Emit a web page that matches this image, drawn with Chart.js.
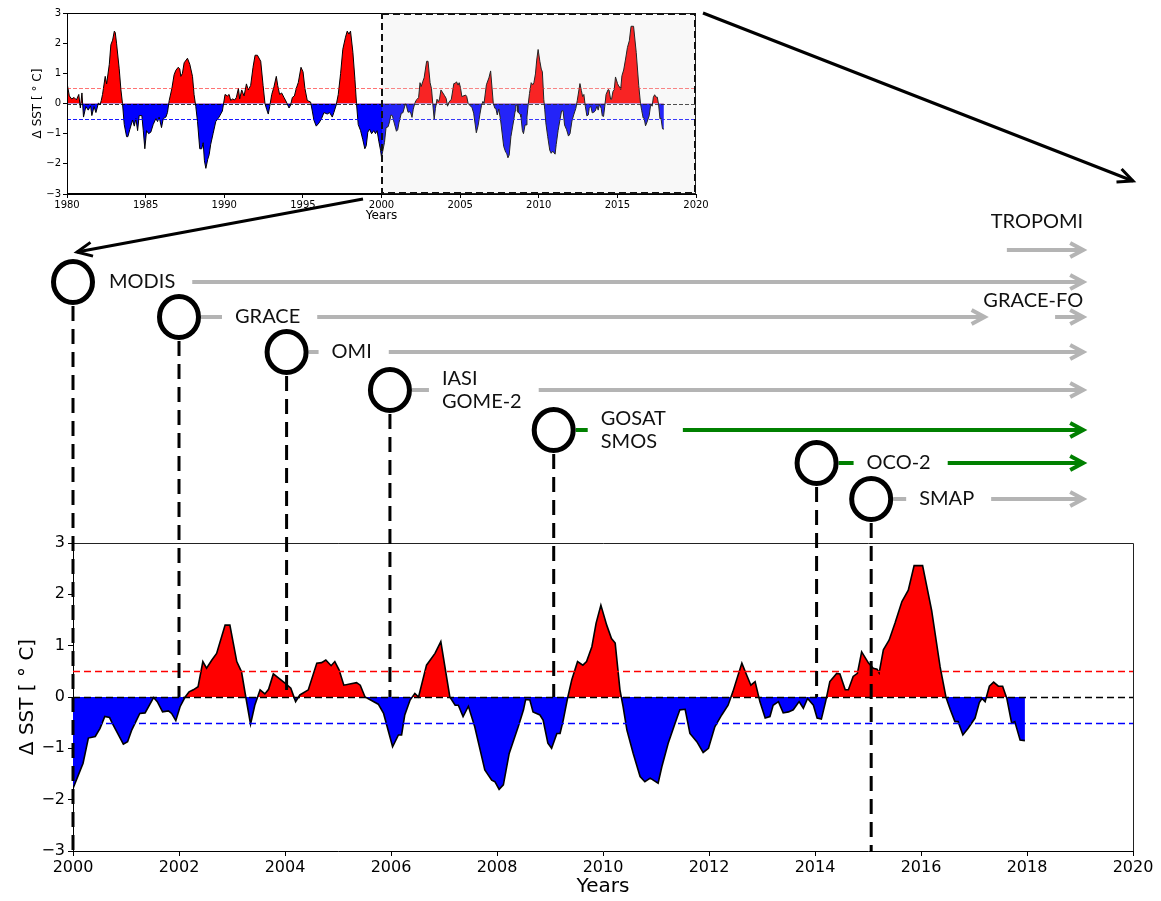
<!DOCTYPE html>
<html>
<head>
<meta charset="utf-8">
<title>SST anomaly and satellite missions</title>
<script src="https://cdn.jsdelivr.net/npm/chart.js@4.4.1/dist/chart.umd.min.js"></script>
<style>
  html, body { margin: 0; padding: 0; background: #fff; }
  #wrap { position: relative; width: 1161px; height: 901px; }
  #mainChart, #insetChart { position: absolute; left: 0; top: 0; }
</style>
</head>
<body>
<div id="wrap">
  <canvas id="mainChart" width="1161" height="901"></canvas>
  <canvas id="insetChart" width="720" height="232"></canvas>
</div>
<script>
// ---- data ----
const earlyYears = [1980.00, 1980.15, 1980.30, 1980.45, 1980.60, 1980.75, 1980.85, 1980.95, 1981.05, 1981.20,
  1981.35, 1981.50, 1981.58, 1981.72, 1981.84, 1982.00, 1982.10, 1982.18, 1982.26, 1982.43,
  1982.52, 1982.69, 1982.79, 1982.90, 1983.01, 1983.07, 1983.15, 1983.32, 1983.43, 1983.53,
  1983.64, 1983.79, 1983.87, 1984.00, 1984.17, 1984.28, 1984.38, 1984.49, 1984.59, 1984.76,
  1984.85, 1984.95, 1985.06, 1985.19, 1985.33, 1985.48, 1985.65, 1985.76, 1985.86, 1986.01,
  1986.12, 1986.29, 1986.39, 1986.50, 1986.67, 1986.81, 1986.92, 1987.07, 1987.17, 1987.24,
  1987.34, 1987.45, 1987.66, 1987.81, 1987.98, 1988.08, 1988.19, 1988.30, 1988.44, 1988.57,
  1988.66, 1988.74, 1988.83, 1988.95, 1989.04, 1989.14, 1989.29, 1989.46, 1989.67, 1989.88,
  1990.05, 1990.20, 1990.31, 1990.41, 1990.52, 1990.67, 1990.77, 1990.90, 1990.98, 1991.11,
  1991.26, 1991.41, 1991.53, 1991.68, 1991.83, 1991.96, 1992.11, 1992.32, 1992.47, 1992.59,
  1992.70, 1992.80, 1992.89, 1993.02, 1993.16, 1993.31, 1993.40, 1993.52, 1993.65, 1993.80,
  1993.95, 1994.12, 1994.22, 1994.33, 1994.46, 1994.58, 1994.71, 1994.88, 1995.01, 1995.13,
  1995.28, 1995.49, 1995.60, 1995.70, 1995.85, 1996.02, 1996.19, 1996.34, 1996.55, 1996.70,
  1996.87, 1996.97, 1997.12, 1997.25, 1997.40, 1997.54, 1997.71, 1997.82, 1997.93, 1998.03,
  1998.18, 1998.31, 1998.41, 1998.52, 1998.67, 1998.81, 1998.94, 1999.03, 1999.13, 1999.24,
  1999.37, 1999.51, 1999.62, 1999.72, 1999.83, 1999.94];
const earlySst = [0.68, 0.25, 0.15, 0.20, 0.12, 0.30, -0.15, 0.35, -0.45, -0.10,
  -0.22, -0.08, -0.40, -0.10, -0.30, 0.02, -0.05, 0.10, 0.30, 0.90,
  0.65, 1.30, 1.95, 2.10, 2.40, 2.35, 2.00, 1.15, 0.45, 0.00,
  -0.70, -1.10, -1.10, -0.85, -0.55, -0.75, -0.50, -0.90, -0.40, -0.40,
  -0.90, -1.50, -0.90, -1.00, -0.95, -0.70, -0.50, -0.60, -0.45, -0.80,
  -0.50, -0.45, -0.30, 0.10, 0.50, 0.95, 1.10, 1.20, 1.15, 0.90,
  1.00, 1.35, 1.50, 1.30, 0.90, 0.30, -0.10, -0.60, -1.50, -1.50,
  -1.30, -1.90, -2.15, -1.85, -1.70, -1.35, -1.00, -0.60, -0.45, -0.25,
  0.30, 0.25, 0.30, 0.10, 0.15, 0.12, 0.20, 0.50, 0.15, 0.45,
  0.25, 0.65, 0.45, 0.60, 1.20, 1.60, 1.60, 1.40, 0.60, 0.00,
  -0.20, -0.35, -0.10, 0.30, 0.55, 0.90, 0.60, 0.30, 0.35, 0.20,
  0.05, -0.15, -0.05, 0.20, 0.25, 0.50, 0.70, 1.20, 1.05, 0.50,
  0.10, 0.05, -0.25, -0.55, -0.75, -0.65, -0.50, -0.30, -0.35, -0.30,
  -0.45, -0.30, -0.05, 0.30, 1.00, 1.80, 2.20, 2.40, 2.30, 2.40,
  1.70, 0.80, 0.00, -0.70, -0.90, -1.20, -1.50, -1.40, -0.95, -0.85,
  -1.00, -0.90, -1.00, -0.90, -1.25, -1.55];

const recentYears = [2000.00, 2000.19, 2000.29, 2000.42, 2000.51, 2000.60, 2000.69, 2000.76, 2000.95, 2001.03,
  2001.11, 2001.26, 2001.36, 2001.52, 2001.59, 2001.69, 2001.80, 2001.86, 2001.94, 2002.02,
  2002.11, 2002.19, 2002.27, 2002.36, 2002.45, 2002.52, 2002.62, 2002.71, 2002.87, 2002.96,
  2003.09, 2003.18, 2003.26, 2003.35, 2003.43, 2003.53, 2003.62, 2003.69, 2003.78, 2004.00,
  2004.11, 2004.20, 2004.28, 2004.44, 2004.60, 2004.69, 2004.77, 2004.87, 2004.94, 2005.02,
  2005.11, 2005.35, 2005.42, 2005.51, 2005.76, 2005.86, 2006.03, 2006.14, 2006.20, 2006.26,
  2006.36, 2006.45, 2006.52, 2006.67, 2006.83, 2006.94, 2007.11, 2007.21, 2007.27, 2007.36,
  2007.46, 2007.58, 2007.77, 2007.90, 2007.96, 2008.04, 2008.12, 2008.23, 2008.40, 2008.50,
  2008.54, 2008.62, 2008.68, 2008.81, 2008.87, 2008.96, 2009.03, 2009.13, 2009.19, 2009.25,
  2009.33, 2009.41, 2009.52, 2009.62, 2009.69, 2009.79, 2009.87, 2009.96, 2010.07, 2010.16,
  2010.23, 2010.32, 2010.38, 2010.45, 2010.57, 2010.70, 2010.79, 2010.89, 2011.04, 2011.11,
  2011.23, 2011.36, 2011.45, 2011.55, 2011.64, 2011.77, 2011.89, 2011.99, 2012.11, 2012.24,
  2012.36, 2012.45, 2012.62, 2012.71, 2012.79, 2012.87, 2012.96, 2013.06, 2013.15, 2013.21,
  2013.31, 2013.40, 2013.50, 2013.59, 2013.70, 2013.78, 2013.86, 2013.97, 2014.04, 2014.12,
  2014.20, 2014.28, 2014.41, 2014.47, 2014.57, 2014.63, 2014.72, 2014.80, 2014.88, 2015.01,
  2015.10, 2015.17, 2015.21, 2015.29, 2015.40, 2015.51, 2015.64, 2015.76, 2015.87, 2016.03,
  2016.20, 2016.36, 2016.47, 2016.55, 2016.64, 2016.70, 2016.79, 2016.89, 2017.02, 2017.10,
  2017.15, 2017.21, 2017.29, 2017.37, 2017.46, 2017.54, 2017.62, 2017.71, 2017.77, 2017.87,
  2017.96];
const recentSst = [-1.78, -1.29, -0.80, -0.77, -0.61, -0.38, -0.40, -0.55, -0.92, -0.87,
  -0.64, -0.32, -0.31, -0.01, -0.09, -0.29, -0.27, -0.32, -0.46, -0.19,
  -0.01, 0.10, 0.14, 0.20, 0.69, 0.56, 0.72, 0.85, 1.40, 1.40,
  0.69, 0.49, 0.00, -0.53, -0.16, 0.14, 0.06, 0.15, 0.45, 0.27,
  0.17, -0.09, 0.04, 0.14, 0.66, 0.67, 0.72, 0.61, 0.69, 0.53,
  0.23, 0.28, 0.23, 0.00, -0.14, -0.32, -0.97, -0.74, -0.74, -0.35,
  -0.06, 0.07, 0.00, 0.62, 0.85, 1.08, 0.00, -0.16, -0.16, -0.38,
  -0.18, -0.58, -1.42, -1.62, -1.65, -1.80, -1.71, -1.10, -0.58, -0.25,
  -0.05, -0.06, -0.29, -0.35, -0.45, -0.90, -1.00, -0.71, -0.71, -0.45,
  -0.03, 0.33, 0.69, 0.62, 0.69, 0.98, 1.44, 1.79, 1.40, 1.14,
  1.05, 0.14, -0.19, -0.64, -1.10, -1.55, -1.65, -1.58, -1.68, -1.36,
  -0.90, -0.51, -0.25, -0.24, -0.71, -0.87, -1.08, -1.00, -0.58, -0.35,
  -0.16, 0.10, 0.66, 0.43, 0.23, 0.30, -0.09, -0.41, -0.38, -0.16,
  -0.09, -0.31, -0.29, -0.25, -0.09, -0.22, -0.03, -0.16, -0.41, -0.43,
  -0.09, 0.30, 0.46, 0.45, 0.14, 0.14, 0.40, 0.46, 0.88, 0.66,
  0.56, 0.54, 0.47, 0.92, 1.11, 1.44, 1.86, 2.08, 2.56, 2.56,
  1.69, 0.59, 0.00, -0.24, -0.48, -0.48, -0.74, -0.61, -0.41, -0.11,
  -0.03, -0.09, 0.21, 0.29, 0.21, 0.21, -0.03, -0.51, -0.48, -0.84,
  -0.85];

const thresholds = [0.5, 0, -0.5];
const zoomWindow = [2000, 2020];

const satNames = ['MODIS', 'GRACE', 'OMI', 'IASI\nGOME-2', 'GOSAT\nSMOS', 'OCO-2', 'SMAP'];
const launchYears = [2000, 2002, 2004.03, 2005.98, 2009.07, 2014.03, 2015.06];
const arrowEndYears = [2019.06, 2017.2, 2019.06, 2019.06, 2019.06, 2019.06, 2019.06];
const dropToSst = [-3, 0, 0, 0, 0, 0, -3];
const followNames = ['TROPOMI', 'GRACE-FO'];
const followStartYears = [2017.62, 2018.53];
const followEndYears = [2019.06, 2019.06];

// ---- layout / styles ----
const rowY = [282, 317, 352, 390, 430, 463, 499];
const labelDx = [36, 56, 45, 52, 47, 50, 48];
const lineColors = ['#b4b4b4', '#b4b4b4', '#b4b4b4', '#b4b4b4', '#008000', '#008000', '#b4b4b4'];
const followRowY = [250, 317];
const followLabelY = [222, 301];
const thresholdColors = ['#ff0000', '#000000', '#0000ff'];
const gray = '#b4b4b4';

Chart.defaults.font.family = "'DejaVu Sans', sans-serif";
Chart.defaults.color = '#000';

function toPoints(xs, ys) {
    return xs.map((x, i) => ({ x: x, y: ys[i] }));
}
function minusLabel(v) {
    return v < 0 ? '\u2212' + Math.abs(v) : String(v);
}
function chevron(ctx, x, y, ang, len, half) {
    const c = Math.cos(ang), s = Math.sin(ang);
    ctx.beginPath();
    ctx.moveTo(x - len * c - half * s, y - len * s + half * c);
    ctx.lineTo(x, y);
    ctx.lineTo(x - len * c + half * s, y - len * s - half * c);
    ctx.stroke();
}
function arrow(ctx, x0, y0, x1, y1, color, lw, len, half) {
    ctx.strokeStyle = color;
    ctx.lineWidth = lw;
    ctx.setLineDash([]);
    ctx.beginPath();
    ctx.moveTo(x0, y0);
    ctx.lineTo(x1, y1);
    ctx.stroke();
    chevron(ctx, x1, y1, Math.atan2(y1 - y0, x1 - x0), len, half);
}

// ########################################################################
// main chart + satellite timeline
const mainDecor = {
    id: 'mainDecor',
    afterDatasetsDraw(chart) {
        const { ctx, chartArea: a, scales: { y } } = chart;
        ctx.save();
        thresholds.forEach((t, i) => {
            const py = Math.round(y.getPixelForValue(t)) + 0.5;
            ctx.strokeStyle = thresholdColors[i];
            ctx.lineWidth = 1.5;
            ctx.setLineDash([7, 4]);
            ctx.beginPath();
            ctx.moveTo(a.left, py);
            ctx.lineTo(a.right, py);
            ctx.stroke();
        });
        // top and right spines
        ctx.setLineDash([]);
        ctx.strokeStyle = '#222';
        ctx.lineWidth = 1;
        ctx.beginPath();
        ctx.moveTo(a.left, a.top + 0.5);
        ctx.lineTo(a.right + 0.5, a.top + 0.5);
        ctx.lineTo(a.right + 0.5, a.bottom);
        ctx.stroke();
        ctx.restore();
    },
    afterDraw(chart) {
        const { ctx, scales: { x, y } } = chart;
        ctx.save();
        // dashed drop lines from each launch marker
        launchYears.forEach((yr, i) => {
            const cx = x.getPixelForValue(yr);
            ctx.strokeStyle = '#000';
            ctx.lineWidth = 3;
            ctx.setLineDash([15, 8]);
            ctx.beginPath();
            ctx.moveTo(cx, rowY[i] + 24);
            ctx.lineTo(cx, y.getPixelForValue(dropToSst[i]));
            ctx.stroke();
        });
        ctx.setLineDash([]);
        ctx.font = '20px Lato';
        ctx.textBaseline = 'middle';
        ctx.textAlign = 'left';
        satNames.forEach((name, i) => {
            const cx = x.getPixelForValue(launchYears[i]);
            const cy = rowY[i];
            const lines = name.split('\n');
            const tx = cx + labelDx[i];
            const tw = Math.max(...lines.map(s => ctx.measureText(s).width));
            ctx.strokeStyle = lineColors[i];
            ctx.lineWidth = 4;
            if (tx - 13 > cx + 24) {
                ctx.beginPath();
                ctx.moveTo(cx + 22, cy);
                ctx.lineTo(tx - 13, cy);
                ctx.stroke();
            }
            arrow(ctx, tx + tw + 17, cy, x.getPixelForValue(arrowEndYears[i]), cy, lineColors[i], 4, 13, 7);
            // launch marker
            ctx.beginPath();
            ctx.ellipse(cx, cy, 19.5, 20.5, 0, 0, 2 * Math.PI);
            ctx.fillStyle = '#fff';
            ctx.fill();
            ctx.strokeStyle = '#000';
            ctx.lineWidth = 5;
            ctx.stroke();
            ctx.fillStyle = '#111';
            lines.forEach((s, k) => {
                ctx.fillText(s, tx, cy + (k - (lines.length - 1) / 2) * 23);
            });
        });
        // follow-on missions
        ctx.textAlign = 'right';
        followNames.forEach((name, i) => {
            const x0 = x.getPixelForValue(followStartYears[i]);
            const x1 = x.getPixelForValue(followEndYears[i]);
            arrow(ctx, x0, followRowY[i], x1, followRowY[i], gray, 4, 13, 7);
            ctx.fillStyle = '#111';
            ctx.fillText(name, x1, followLabelY[i]);
        });
        // connectors from the inset to the zoomed panel
        arrow(ctx, 363, 199, 77, 252, '#000', 3, 15, 7);
        arrow(ctx, 703, 13, 1133, 181, '#000', 3, 15, 7);
        ctx.restore();
    }
};

const mainChart = new Chart(document.getElementById('mainChart').getContext('2d'), {
    type: 'line',
    data: {
        datasets: [{
            data: toPoints(recentYears, recentSst),
            borderColor: '#000',
            borderWidth: 1.6,
            pointRadius: 0,
            tension: 0,
            fill: { target: 'origin', above: '#ff0000', below: '#0000ff' }
        }]
    },
    options: {
        responsive: false,
        animation: false,
        layout: { padding: { top: 543, right: 28, left: 0, bottom: 0 } },
        plugins: { legend: { display: false }, tooltip: { enabled: false } },
        scales: {
            x: {
                type: 'linear', min: 2000, max: 2020,
                ticks: { stepSize: 2, font: { size: 16 }, padding: 2, callback: v => String(v), maxRotation: 0 },
                grid: { drawOnChartArea: false, tickLength: 5, tickColor: '#000' },
                border: { color: '#000', width: 1 },
                title: { display: true, text: 'Years', font: { size: 20 }, padding: { top: 0, bottom: 2 } },
                afterFit(scale) { scale.height = 50; }
            },
            y: {
                min: -3, max: 3,
                ticks: { stepSize: 1, font: { size: 16 }, padding: 3, callback: minusLabel },
                grid: { drawOnChartArea: false, tickLength: 5, tickColor: '#000' },
                border: { color: '#000', width: 1 },
                title: { display: true, text: 'Δ SST [ ° C]', font: { size: 20 }, padding: { top: 16, bottom: 0 } },
                afterFit(scale) { scale.width = 73; }
            }
        }
    },
    plugins: [mainDecor]
});

// ########################################################################
// inset: full 1980-2018 record
const insetDecor = {
    id: 'insetDecor',
    afterDatasetsDraw(chart) {
        const { ctx, chartArea: a, scales: { x, y } } = chart;
        ctx.save();
        const insetColors = ['rgba(255,0,0,0.55)', 'rgba(0,0,0,0.8)', 'rgba(0,0,255,0.9)'];
        thresholds.forEach((t, i) => {
            const py = Math.round(y.getPixelForValue(t)) + 0.5;
            ctx.strokeStyle = insetColors[i];
            ctx.lineWidth = 1;
            ctx.setLineDash([4, 2]);
            ctx.beginPath();
            ctx.moveTo(a.left, py);
            ctx.lineTo(a.right, py);
            ctx.stroke();
        });
        ctx.setLineDash([]);
        ctx.strokeStyle = '#000';
        ctx.lineWidth = 1;
        ctx.strokeRect(a.left + 0.5, a.top + 0.5, a.right - a.left - 1, a.bottom - a.top - 1);
        // zoom window
        const x0 = Math.round(x.getPixelForValue(zoomWindow[0]));
        const x1 = Math.round(x.getPixelForValue(zoomWindow[1]));
        ctx.fillStyle = 'rgba(211,211,211,0.17)';
        ctx.fillRect(x0, a.top, x1 - x0, a.bottom - a.top);
        ctx.strokeStyle = '#111';
        ctx.lineWidth = 2;
        ctx.setLineDash([7, 4]);
        ctx.strokeRect(x0, a.top + 1, x1 - x0 - 1, a.bottom - a.top - 2);
        ctx.restore();
    }
};

const insetChart = new Chart(document.getElementById('insetChart').getContext('2d'), {
    type: 'line',
    data: {
        datasets: [{
            data: toPoints(earlyYears.concat(recentYears), earlySst.concat(recentSst)),
            borderColor: '#000',
            borderWidth: 1,
            pointRadius: 0,
            tension: 0,
            fill: { target: 'origin', above: '#ff0000', below: '#0000ff' }
        }]
    },
    options: {
        responsive: false,
        animation: false,
        layout: { padding: { top: 13, right: 24, left: 0, bottom: 0 } },
        plugins: { legend: { display: false }, tooltip: { enabled: false } },
        scales: {
            x: {
                type: 'linear', min: 1980, max: 2020,
                ticks: { stepSize: 5, font: { size: 10 }, padding: 1, callback: v => String(v), maxRotation: 0 },
                grid: { drawOnChartArea: false, tickLength: 4, tickColor: '#000' },
                border: { color: '#000', width: 1 },
                title: { display: true, text: 'Years', font: { size: 12 }, padding: { top: 0, bottom: 9 } },
                afterFit(scale) { scale.height = 38; }
            },
            y: {
                min: -3, max: 3,
                ticks: { stepSize: 1, font: { size: 10 }, padding: 2, callback: minusLabel },
                grid: { drawOnChartArea: false, tickLength: 4, tickColor: '#000' },
                border: { color: '#000', width: 1 },
                title: { display: true, text: 'Δ SST [ ° C]', font: { size: 12 }, padding: { top: 31, bottom: 0 } },
                afterFit(scale) { scale.width = 67; }
            }
        }
    },
    plugins: [insetDecor]
});
</script>
</body>
</html>
